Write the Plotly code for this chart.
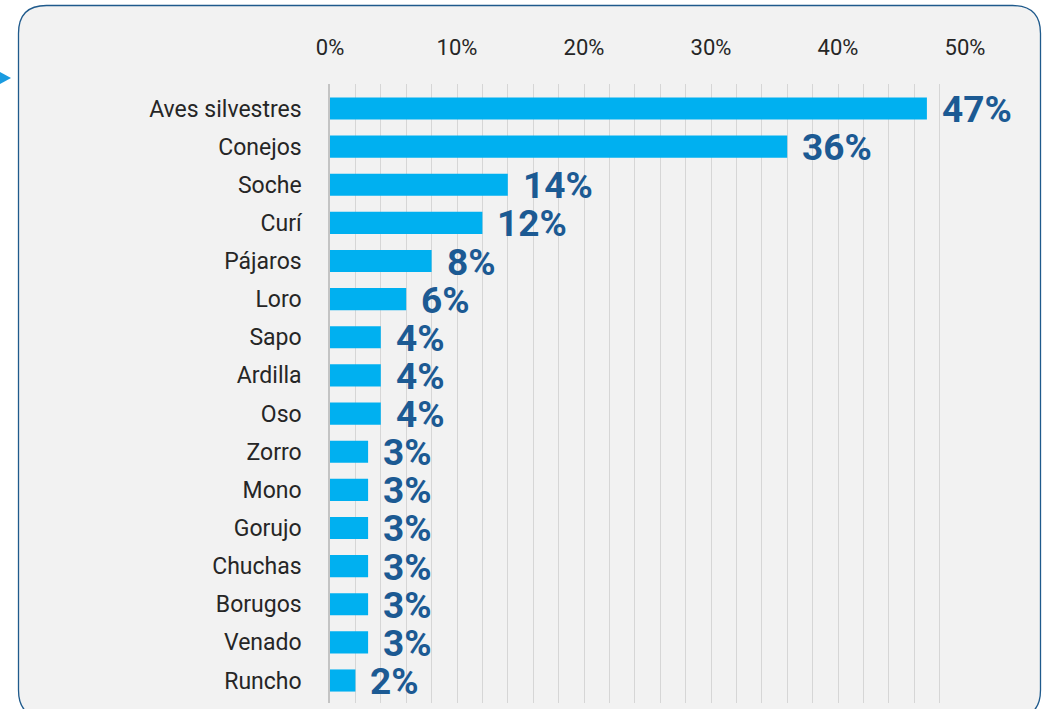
import plotly.graph_objects as go

# Survey results: species mentioned, share of respondents (%)
species = ["Aves silvestres", "Conejos", "Soche", "Curí", "Pájaros", "Loro", "Sapo",
           "Ardilla", "Oso", "Zorro", "Mono", "Gorujo", "Chuchas", "Borugos", "Venado", "Runcho"]
share = [47, 36, 14, 12, 8, 6, 4, 4, 4, 3, 3, 3, 3, 3, 3, 2]
tick_values = [0, 10, 20, 30, 40, 50]
tick_labels = ["0%", "10%", "20%", "30%", "40%", "50%"]

W, H = 1053, 709
FONT = "Roboto, Liberation Sans, sans-serif"
BAR = "#00b0f0"
LABEL = "#1c5a93"

fig = go.Figure(go.Bar(
    x=share, y=species, orientation="h",
    marker=dict(color=BAR, line=dict(width=0)),
    width=0.58, hoverinfo="skip",
))

for s, v in zip(species, share):
    fig.add_annotation(x=v, y=s, text=f"<b>{v}%</b>", showarrow=False,
                       xanchor="left", yanchor="middle", xshift=13, yshift=-1,
                       font=dict(family=FONT, size=37, color=LABEL))

def px(x, y):
    return f"{x / W:.5f},{1 - y / H:.5f}"

# rounded frame (bottom edge runs past the page)
x0, x1, y0, y1, r = 18.5, 1040.5, 5.5, 718, 28
frame = (f"M {px(x0 + r, y0)} L {px(x1 - r, y0)} Q {px(x1, y0)} {px(x1, y0 + r)} "
         f"L {px(x1, y1 - r)} Q {px(x1, y1)} {px(x1 - r, y1)} L {px(x0 + r, y1)} "
         f"Q {px(x0, y1)} {px(x0, y1 - r)} L {px(x0, y0 + r)} Q {px(x0, y0)} {px(x0 + r, y0)} Z")
fig.add_shape(type="path", path=frame, xref="paper", yref="paper", layer="below",
              fillcolor="#f2f2f2", line=dict(color="#1f5a8c", width=1.3))
# pointer marker at the left edge
fig.add_shape(type="path", path=f"M {px(0, 72)} L {px(11, 78)} L {px(0, 84)} Z",
              xref="paper", yref="paper", fillcolor="#1a9be0", line=dict(width=0))

fig.update_layout(
    width=W, height=H,
    margin=dict(l=0, r=0, t=0, b=0, autoexpand=False),
    paper_bgcolor="white", plot_bgcolor="rgba(0,0,0,0)",
    showlegend=False,
    font=dict(family=FONT, color="#262626"),
    xaxis=dict(
        side="top", range=[0, 50], domain=[330 / W, 965 / W],
        tickvals=tick_values, ticktext=tick_labels,
        tickfont=dict(size=22, color="#262626"),
        showgrid=True, gridcolor="#d6d6d6", gridwidth=1,
        minor=dict(dtick=2, showgrid=True, gridcolor="#d6d6d6", gridwidth=1),
        zeroline=False, showline=False, ticks="", ticklabelstandoff=24,
        automargin=False, fixedrange=True,
    ),
    yaxis=dict(
        autorange="reversed", domain=[1 - 703 / H, 1 - 84 / H],
        tickfont=dict(size=23, color="#262626"),
        showgrid=False, zeroline=False,
        showline=True, linecolor="#c4c4c4", linewidth=1.5,
        ticks="", ticklabelstandoff=22, automargin=False, fixedrange=True,
    ),
)

fig.write_html("out.html")
